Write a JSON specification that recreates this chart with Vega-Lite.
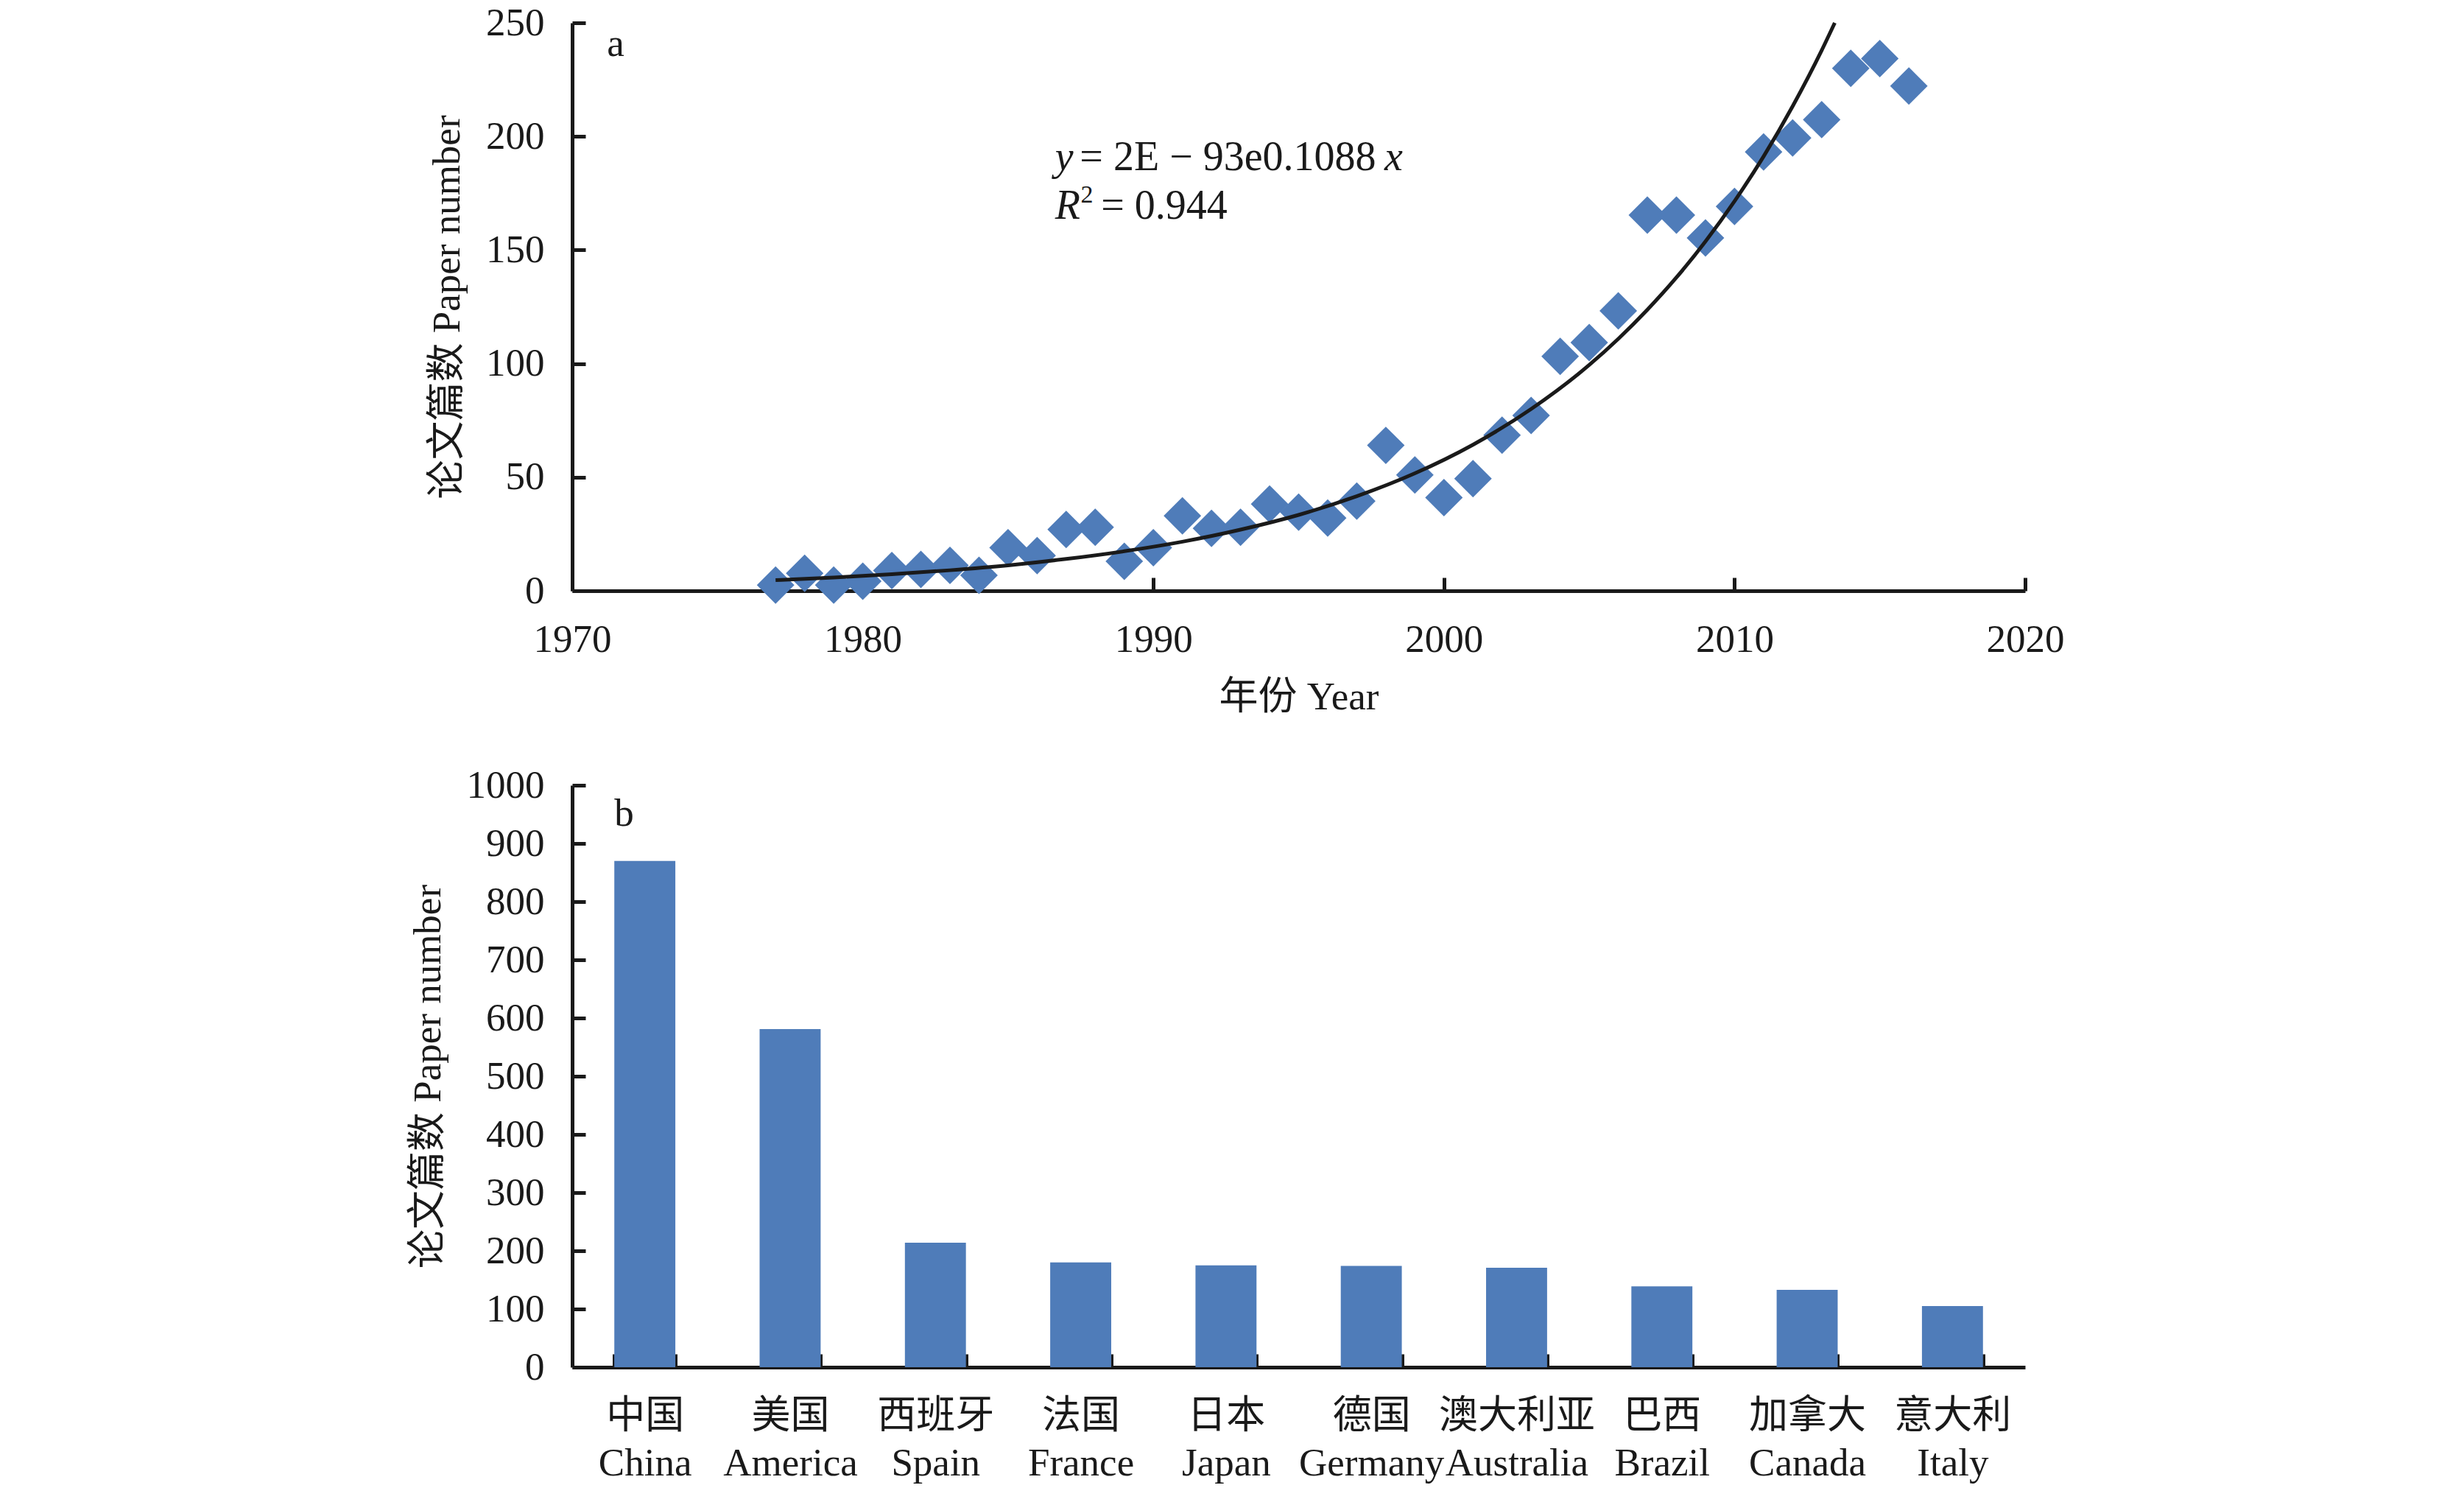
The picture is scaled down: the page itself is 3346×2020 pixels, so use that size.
{
  "$schema": "https://vega.github.io/schema/vega-lite/v6.json",
  "background": "white",
  "padding": {"left": 555, "top": 5, "right": 10, "bottom": 10},
  "autosize": {"type": "pad"},
  "config": {
    "view": {"stroke": null},
    "font": "'Liberation Serif', 'Noto Sans CJK SC', serif",
    "axis": {
      "domainColor": "#1a1a1a",
      "domainWidth": 5,
      "tickColor": "#1a1a1a",
      "tickWidth": 5,
      "tickSize": -18,
      "labelFont": "'Liberation Serif', 'Noto Sans CJK SC', serif",
      "labelFontSize": 53,
      "labelColor": "#1a1a1a",
      "labelFlush": false,
      "titleFont": "'Liberation Serif', 'Noto Sans CJK SC', serif",
      "titleFontSize": 53,
      "titleFontWeight": "normal",
      "titleColor": "#1a1a1a",
      "grid": false
    }
  },
  "datasets": {
    "papers": [
      {"year": 1977, "count": 2.5}, {"year": 1978, "count": 7.7}, {"year": 1979, "count": 2.5},
      {"year": 1980, "count": 4.2}, {"year": 1981, "count": 8.9}, {"year": 1982, "count": 9.4},
      {"year": 1983, "count": 11.2}, {"year": 1984, "count": 6.8}, {"year": 1985, "count": 19},
      {"year": 1986, "count": 15.5}, {"year": 1987, "count": 27}, {"year": 1988, "count": 28},
      {"year": 1989, "count": 13}, {"year": 1990, "count": 19}, {"year": 1991, "count": 33},
      {"year": 1992, "count": 27.5}, {"year": 1993, "count": 28}, {"year": 1994, "count": 38.2},
      {"year": 1995, "count": 34.6}, {"year": 1996, "count": 32}, {"year": 1997, "count": 39.5},
      {"year": 1998, "count": 64}, {"year": 1999, "count": 51}, {"year": 2000, "count": 41},
      {"year": 2001, "count": 49.4}, {"year": 2002, "count": 68.5}, {"year": 2003, "count": 77.2},
      {"year": 2004, "count": 103.2}, {"year": 2005, "count": 109.3}, {"year": 2006, "count": 123.2},
      {"year": 2007, "count": 165.4}, {"year": 2008, "count": 165.4}, {"year": 2009, "count": 155.3},
      {"year": 2010, "count": 169.2}, {"year": 2011, "count": 193.2}, {"year": 2012, "count": 199.3},
      {"year": 2013, "count": 207.4}, {"year": 2014, "count": 230}, {"year": 2015, "count": 234.3},
      {"year": 2016, "count": 222.2}
    ],
    "trend": [
      {"year": 1977, "value": 4.7}, {"year": 1979, "value": 5.85}, {"year": 1981, "value": 7.27},
      {"year": 1983, "value": 9.04}, {"year": 1985, "value": 11.2}, {"year": 1987, "value": 14.0},
      {"year": 1989, "value": 17.4}, {"year": 1991, "value": 21.6}, {"year": 1993, "value": 26.9},
      {"year": 1995, "value": 33.4}, {"year": 1997, "value": 41.6}, {"year": 1999, "value": 51.7},
      {"year": 2001, "value": 64.3}, {"year": 2003, "value": 80.0}, {"year": 2005, "value": 99.4},
      {"year": 2006, "value": 110.9}, {"year": 2007, "value": 123.7}, {"year": 2008, "value": 137.9},
      {"year": 2009, "value": 153.8}, {"year": 2010, "value": 171.5}, {"year": 2011, "value": 191.2},
      {"year": 2012, "value": 213.3}, {"year": 2013, "value": 237.9}, {"year": 2013.45, "value": 250}
    ],
    "countries": [
      {"country": "中国|China", "count": 870},
      {"country": "美国|America", "count": 581},
      {"country": "西班牙|Spain", "count": 214},
      {"country": "法国|France", "count": 180},
      {"country": "日本|Japan", "count": 175},
      {"country": "德国|Germany", "count": 174},
      {"country": "澳大利亚|Australia", "count": 171},
      {"country": "巴西|Brazil", "count": 139},
      {"country": "加拿大|Canada", "count": 133},
      {"country": "意大利|Italy", "count": 105}
    ]
  },
  "bounds": "flush",
  "spacing": 264,
  "vconcat": [
    {
      "width": 1973,
      "height": 771,
      "layer": [
        {
          "data": {"name": "papers"},
          "mark": {"type": "point", "shape": "diamond", "filled": true, "size": 2600, "color": "#4F7CB9", "opacity": 1},
          "encoding": {
            "x": {
              "field": "year", "type": "quantitative",
              "scale": {"domain": [1970, 2020], "nice": false, "zero": false},
              "axis": {"values": [1970, 1980, 1990, 2000, 2010, 2020], "format": "d", "title": "年份 Year", "labelPadding": 58, "titlePadding": 25}
            },
            "y": {
              "field": "count", "type": "quantitative",
              "scale": {"domain": [0, 250], "nice": false},
              "axis": {"values": [0, 50, 100, 150, 200, 250], "format": "d", "title": "论文篇数 Paper number", "labelPadding": 56, "titlePadding": 25}
            }
          }
        },
        {
          "data": {"name": "trend"},
          "mark": {"type": "line", "color": "#1a1a1a", "strokeWidth": 5, "interpolate": "monotone"},
          "encoding": {
            "x": {"field": "year", "type": "quantitative"},
            "y": {"field": "value", "type": "quantitative"}
          }
        },
        {
          "data": {"values": [{"x": 1971.2, "y": 235.4, "t": "a"}]},
          "mark": {"type": "text", "align": "left", "baseline": "alphabetic", "fontSize": 53, "color": "#1a1a1a", "font": "'Liberation Serif', serif"},
          "encoding": {"x": {"field": "x", "type": "quantitative"}, "y": {"field": "y", "type": "quantitative"}, "text": {"field": "t"}}
        },
        {
          "data": {"values": [{"x": 1986.62, "y": 185.1, "t": "y"}, {"x": 1997.95, "y": 185.1, "t": "x"}, {"x": 1986.62, "y": 163.7, "t": "R"}]},
          "mark": {"type": "text", "align": "left", "baseline": "alphabetic", "fontSize": 56, "fontStyle": "italic", "color": "#1a1a1a", "font": "'Liberation Serif', serif"},
          "encoding": {"x": {"field": "x", "type": "quantitative"}, "y": {"field": "y", "type": "quantitative"}, "text": {"field": "t"}}
        },
        {
          "data": {"values": [{"x": 1987.47, "y": 185.1, "t": "=\u00a02E\u00a0\u2212\u00a093e0.1088"}, {"x": 1988.2, "y": 163.7, "t": "=\u00a00.944"}]},
          "mark": {"type": "text", "align": "left", "baseline": "alphabetic", "fontSize": 56, "color": "#1a1a1a", "font": "'Liberation Serif', serif"},
          "encoding": {"x": {"field": "x", "type": "quantitative"}, "y": {"field": "y", "type": "quantitative"}, "text": {"field": "t"}}
        },
        {
          "data": {"values": [{"x": 1987.5, "y": 171.0, "t": "2"}]},
          "mark": {"type": "text", "align": "left", "baseline": "alphabetic", "fontSize": 34, "color": "#1a1a1a", "font": "'Liberation Serif', serif"},
          "encoding": {"x": {"field": "x", "type": "quantitative"}, "y": {"field": "y", "type": "quantitative"}, "text": {"field": "t"}}
        }
      ]
    },
    {
      "width": 1973,
      "height": 790,
      "layer": [
        {
          "data": {"name": "countries"},
          "mark": {"type": "bar", "color": "#4F7CB9"},
          "encoding": {
            "x": {
              "field": "country", "type": "nominal", "sort": null,
              "scale": {"paddingInner": 0.58, "paddingOuter": 0.29},
              "axis": {"title": null, "labelExpr": "split(datum.label, '|')", "labelAngle": 0, "labelPadding": 58, "labelLineHeight": 64, "labelLimit": 1000, "tickBand": "extent", "labelBaseline": "top"}
            },
            "y": {
              "field": "count", "type": "quantitative",
              "scale": {"domain": [0, 1000], "nice": false},
              "axis": {"values": [0, 100, 200, 300, 400, 500, 600, 700, 800, 900, 1000], "format": "d", "title": "论文篇数 Paper number", "labelPadding": 56, "titlePadding": 25}
            }
          }
        },
        {
          "data": {"values": [{"c": "中国|China", "y": 930, "t": "b"}]},
          "mark": {"type": "text", "align": "left", "baseline": "alphabetic", "fontSize": 53, "color": "#1a1a1a", "font": "'Liberation Serif', serif"},
          "encoding": {
            "x": {"field": "c", "type": "nominal", "sort": null, "bandPosition": 0},
            "y": {"field": "y", "type": "quantitative"},
            "text": {"field": "t"}
          }
        }
      ]
    }
  ]
}
